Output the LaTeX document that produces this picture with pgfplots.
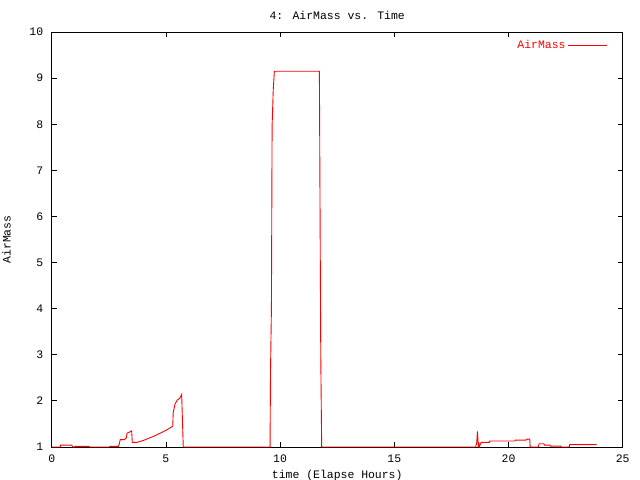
\documentclass[border=0pt]{standalone}
\usepackage{pgfplots}
\pgfplotsset{compat=1.18}
\usepackage{fontspec}
\setmainfont{Liberation Mono}
\begin{document}
\fontsize{11.5}{13}\selectfont
\begin{tikzpicture}
\path[use as bounding box] (-51.7bp,-33bp) rectangle (588.3bp,447bp);
\begin{axis}[
  at={(0,0)}, anchor=south west,
  scale only axis, width=571bp, height=415bp,
  xmin=0, xmax=25, ymin=1, ymax=10,
  xtick={0,5,10,15,20,25}, ytick={1,2,...,10},
  tick align=inside, major tick length=5bp,
  xtick pos=both, ytick pos=both,
  axis line style={line width=0.8pt},
  every tick/.style={black, line width=0.8pt},
  /pgf/number format/assume math mode=true,
  tick label style={font=\fontsize{11.5}{13}\selectfont},
  yticklabel style={xshift=-4.5bp},
  xticklabel style={yshift=-3.5bp},
  xlabel={time (Elapse Hours)},
  xlabel style={at={(0.5,0)}, anchor=center, yshift=-28.5bp},
  legend style={draw=none, fill=none, at={(1,1)}, anchor=north east, xshift=-12bp, yshift=-4bp, text=red, font=\fontsize{11.5}{13}\selectfont},
  legend plot pos=right,
  legend image code/.code={\path (0bp,0bp) -- (39bp,0bp); \draw[#1] (5bp,0bp) -- (39bp,0bp);},
]
\addplot[red, line width=0.9pt, mark=none] coordinates {
(0,1) (0.37,1) (0.39,1.04) (0.88,1.04) (0.92,1) (1.0,1) (1.02,1.015) (1.63,1.015) (1.65,1)
(2.53,1) (2.55,1.015) (2.92,1.015) (2.95,1.05) (3.0,1.16) (3.18,1.16) (3.27,1.2) (3.30,1.3)
(3.43,1.33) (3.50,1.35) (3.53,1.1) (3.72,1.1) (4.0,1.14) (4.5,1.24) (5.0,1.36) (5.30,1.45)
(5.32,1.75) (5.40,1.93) (5.50,2.02) (5.62,2.06) (5.69,2.14) (5.76,1)
(9.56,1) (9.58,2.64) (9.62,4) (9.65,7.96) (9.70,8.75) (9.75,9.15) (11.72,9.15)
(11.74,7.1) (11.78,3.0) (11.82,1)
(18.56,1) (18.61,1.1) (18.64,1.34) (18.68,1) (18.70,1.1) (18.72,1) (18.80,1.1) (19.16,1.1)
(19.18,1.13) (20.28,1.13) (20.30,1.15) (20.77,1.15) (20.80,1.17) (20.93,1.17) (20.95,1)
(21.31,1) (21.34,1.07) (21.55,1.07) (21.57,1.04) (21.82,1.04) (21.84,1.02) (22.29,1.02)
(22.31,1) (22.66,1) (22.68,1.05) (23.86,1.05)
};
\addlegendentry{AirMass}
\end{axis}
\node[anchor=center] at (285.5bp,431.5bp) {4: AirMass vs. Time};
\node[rotate=90, anchor=center] at (-45.2bp,207.5bp) {AirMass};
\end{tikzpicture}
\end{document}
